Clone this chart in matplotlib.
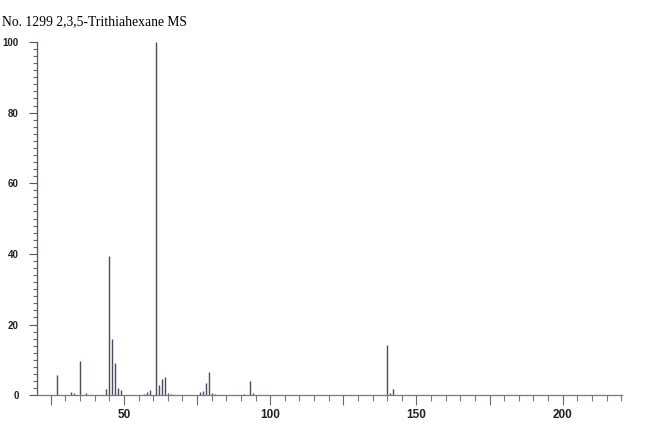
import matplotlib
matplotlib.use("Agg")
import matplotlib.pyplot as plt
from matplotlib.ticker import MultipleLocator, FuncFormatter

title = "No. 1299 2,3,5-Trithiahexane MS"
mz = [27, 32, 33, 35, 37, 44, 45, 46, 47, 48, 49, 57, 58, 59, 61, 62, 63, 64,
      65, 66, 76, 77, 78, 79, 80, 81, 91, 93, 94, 140, 141, 142]
intensity = [5.7, 1.0, 0.6, 9.7, 0.5, 1.7, 39.5, 15.9, 9.0, 1.9, 1.4, 0.3, 0.9, 1.6,
             100, 2.8, 4.5, 5.2, 0.5, 0.3, 0.9, 1.1, 3.5, 6.6, 0.5, 0.3, 0.3, 4.1,
             0.5, 14.2, 0.6, 1.7]
x_labels = [50, 100, 150, 200]
y_labels = [0, 20, 40, 60, 80, 100]

fig = plt.figure(figsize=(6.5, 4.46), dpi=100)
ax = fig.add_axes([0.057, 0.114, 0.900, 0.792])

line_col = "#4b4b5e"
ax.vlines(mz, 0, intensity, colors=line_col, linewidth=1.0)

ax.set_xlim(20.3, 220.3)
ax.set_ylim(0, 100)

for s in ["top", "right"]:
    ax.spines[s].set_visible(False)
ax.spines["left"].set_color("#555566")
ax.spines["bottom"].set_color("#777788")
ax.spines["left"].set_linewidth(0.9)
ax.spines["bottom"].set_linewidth(0.9)

ax.xaxis.set_major_locator(MultipleLocator(25))
ax.xaxis.set_minor_locator(MultipleLocator(5))
ax.xaxis.set_major_formatter(FuncFormatter(lambda v, p: f"{int(v)}" if int(round(v)) in x_labels else ""))
ax.yaxis.set_major_locator(MultipleLocator(20))
ax.yaxis.set_minor_locator(MultipleLocator(2))
ax.set_yticks(y_labels)

ax.tick_params(axis="x", which="major", direction="out", length=7, width=0.8,
               color="#666677", pad=3)
ax.tick_params(axis="x", which="minor", direction="out", length=4, width=0.8,
               color="#777788")
ax.tick_params(axis="y", which="major", direction="out", length=6, width=0.8,
               color="#555566", pad=7)
ax.tick_params(axis="y", which="minor", direction="out", length=3, width=0.8,
               color="#666677")

for lab in ax.get_xticklabels():
    lab.set_fontfamily("Liberation Sans")
    lab.set_fontsize(8.5)
    lab.set_fontweight("bold")
    lab.set_color("#222222")
for lab in ax.get_yticklabels():
    lab.set_fontfamily("Liberation Sans")
    lab.set_fontsize(7)
    lab.set_fontweight("bold")
    lab.set_color("#222222")

fig.text(0.003, 0.952, title, family="Liberation Serif", fontsize=9.8,
         va="center", ha="left", color="black")

fig.savefig("out.png", dpi=100)
